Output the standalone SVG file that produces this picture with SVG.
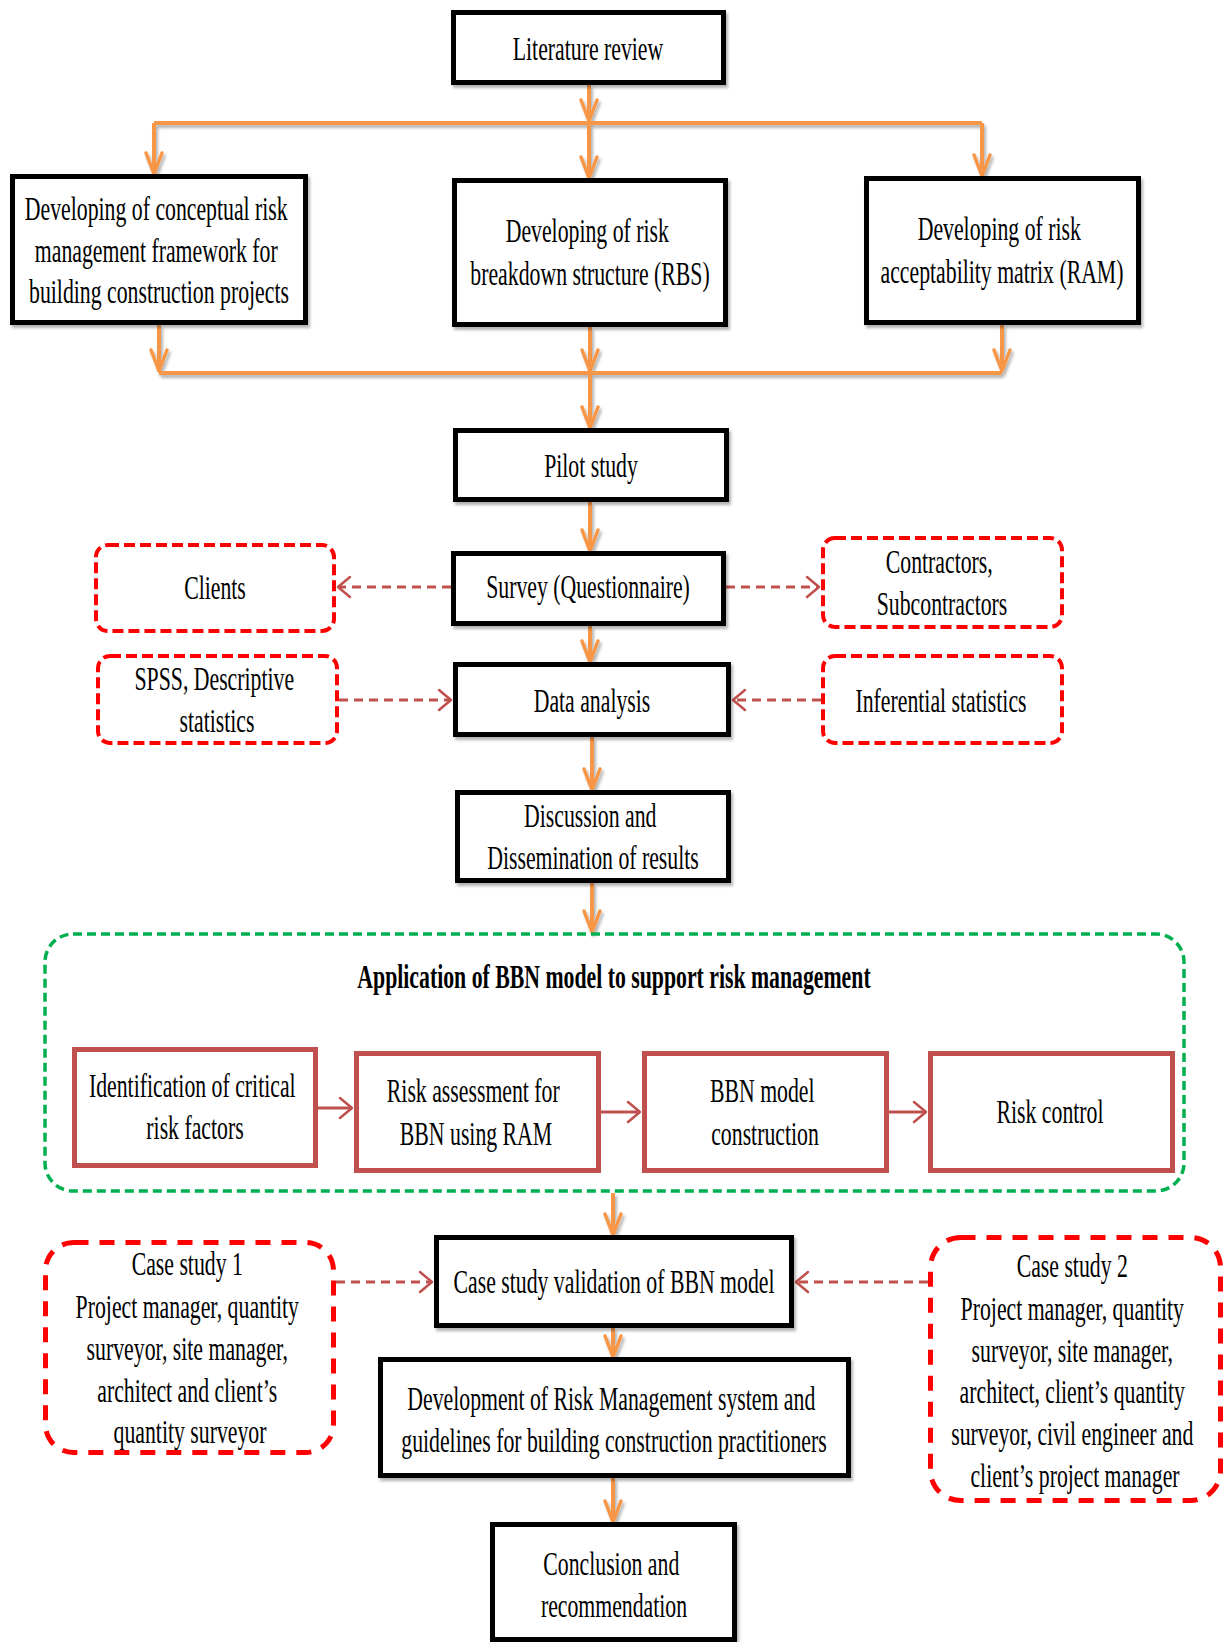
<svg xmlns="http://www.w3.org/2000/svg" width="1230" height="1642" viewBox="0 0 1230 1642">
  <style>
    .box { fill: #fff; stroke: #000; stroke-width: 5; }
    .sbox { fill: #fff; stroke: #C0504D; stroke-width: 5; }
    .dbox { fill: #fff; stroke: #FF0000; stroke-width: 4; stroke-dasharray: 11 5; }
    .cbox { fill: #fff; stroke: #FF0000; stroke-width: 5; stroke-dasharray: 15 11; }
    .grp { fill: none; stroke: #00B050; stroke-width: 3.5; stroke-dasharray: 9 5; }
    .flow { fill: none; stroke: #F79646; stroke-width: 4; }
    .flow-a { fill: none; stroke: #F79646; stroke-width: 4; marker-end: url(#arrO); }
    .link { fill: none; stroke: #C0504D; stroke-width: 3; stroke-dasharray: 9 6; marker-end: url(#arrB); }
    .step { fill: none; stroke: #C0504D; stroke-width: 3; marker-end: url(#arrB); }
    .t { font-family: "Liberation Serif", "Times New Roman", serif; font-size: 33px; fill: #000; text-anchor: middle; }
    .tb { font-weight: bold; }
  </style>
  <defs>
    <marker id="arrO" viewBox="0 0 24 18" refX="22" refY="9" markerWidth="24" markerHeight="18" markerUnits="userSpaceOnUse" orient="auto" overflow="visible">
      <path d="M1,1 L22,9 L1,17" fill="none" stroke="#F79646" stroke-width="3.5" stroke-linejoin="round" stroke-linecap="round"/>
    </marker>
    <marker id="arrB" viewBox="0 0 14 22" refX="13" refY="11" markerWidth="14" markerHeight="22" markerUnits="userSpaceOnUse" orient="auto" overflow="visible">
      <path d="M1,1 L13,11 L1,21" fill="none" stroke="#C0504D" stroke-width="2.5" stroke-linejoin="round" stroke-linecap="round"/>
    </marker>
    <filter id="shadow" x="-5%" y="-5%" width="110%" height="120%">
      <feDropShadow dx="2" dy="3" stdDeviation="1.5" flood-color="#000" flood-opacity="0.3"/>
    </filter>
  </defs>

  <!-- connectors -->
  <g id="connectors">
    <g filter="url(#shadow)">
      <path class="flow-a" d="M589,85 V121"/>
      <path class="flow" d="M154,123 H982"/>
      <path class="flow-a" d="M154,123 V174"/>
      <path class="flow-a" d="M589,123 V178"/>
      <path class="flow-a" d="M982,123 V176"/>
      <path class="flow-a" d="M159,325 V371"/>
      <path class="flow-a" d="M590,327 V371"/>
      <path class="flow-a" d="M1002,325 V371"/>
      <path class="flow" d="M159,373 H1002"/>
      <path class="flow-a" d="M590,373 V428"/>
      <path class="flow-a" d="M590,502 V551"/>
      <path class="flow-a" d="M590,626 V662"/>
      <path class="flow-a" d="M592,737 V790"/>
      <path class="flow-a" d="M592,883 V932"/>
      <path class="flow-a" d="M613,1193 V1235"/>
      <path class="flow-a" d="M613,1328 V1357"/>
      <path class="flow-a" d="M613,1478 V1522"/>
    </g>
    <path class="link" d="M451,587 H338"/>
    <path class="link" d="M726,587 H819"/>
    <path class="link" d="M339,700 H451"/>
    <path class="link" d="M821,700 H733"/>
    <path class="link" d="M336,1282 H432"/>
    <path class="link" d="M928,1282 H796"/>
    <path class="step" d="M318,1108 H352"/>
    <path class="step" d="M601,1112 H640"/>
    <path class="step" d="M889,1112 H926"/>
  </g>

  <g id="literature-review">
    <rect class="box" x="453.5" y="12.5" width="270" height="70" filter="url(#shadow)"/>
    <text class="t" transform="translate(588 0) scale(0.66 1)"><tspan x="0" y="60">Literature review</tspan></text>
  </g>

  <g id="conceptual-framework">
    <rect class="box" x="12.5" y="176.5" width="293" height="146" filter="url(#shadow)"/>
    <text class="t" transform="translate(159 0) scale(0.66 1)">
      <tspan x="0" y="220">Developing of conceptual risk</tspan>
      <tspan x="0" y="262">management framework for</tspan>
      <tspan x="0" y="303">building construction projects</tspan>
    </text>
  </g>

  <g id="rbs">
    <rect class="box" x="454.5" y="180.5" width="271" height="144" filter="url(#shadow)"/>
    <text class="t" transform="translate(590 0) scale(0.66 1)">
      <tspan x="0" y="242">Developing of risk</tspan>
      <tspan x="0" y="285">breakdown structure (RBS)</tspan>
    </text>
  </g>

  <g id="ram">
    <rect class="box" x="866.5" y="178.5" width="272" height="144" filter="url(#shadow)"/>
    <text class="t" transform="translate(1002 0) scale(0.66 1)">
      <tspan x="0" y="240">Developing of risk</tspan>
      <tspan x="0" y="283">acceptability matrix (RAM)</tspan>
    </text>
  </g>

  <g id="pilot-study">
    <rect class="box" x="455.5" y="430.5" width="271" height="69" filter="url(#shadow)"/>
    <text class="t" transform="translate(591 0) scale(0.66 1)"><tspan x="0" y="477">Pilot study</tspan></text>
  </g>

  <g id="survey">
    <rect class="box" x="453.5" y="553.5" width="270" height="70" filter="url(#shadow)"/>
    <text class="t" transform="translate(588 0) scale(0.66 1)"><tspan x="0" y="598">Survey (Questionnaire)</tspan></text>
  </g>

  <g id="clients">
    <rect class="dbox" x="96" y="545" width="238" height="86" rx="12"/>
    <text class="t" transform="translate(215 0) scale(0.66 1)"><tspan x="0" y="599">Clients</tspan></text>
  </g>

  <g id="contractors">
    <rect class="dbox" x="823" y="538" width="239" height="89" rx="12"/>
    <text class="t" transform="translate(942 0) scale(0.66 1)">
      <tspan x="0" y="573">Contractors,</tspan>
      <tspan x="0" y="615">Subcontractors</tspan>
    </text>
  </g>

  <g id="data-analysis">
    <rect class="box" x="455.5" y="664.5" width="273" height="70" filter="url(#shadow)"/>
    <text class="t" transform="translate(592 0) scale(0.66 1)"><tspan x="0" y="712">Data analysis</tspan></text>
  </g>

  <g id="spss">
    <rect class="dbox" x="98" y="656" width="239" height="87" rx="12"/>
    <text class="t" transform="translate(217 0) scale(0.66 1)">
      <tspan x="0" y="690">SPSS, Descriptive</tspan>
      <tspan x="0" y="732">statistics</tspan>
    </text>
  </g>

  <g id="inferential">
    <rect class="dbox" x="823" y="656" width="239" height="87" rx="12"/>
    <text class="t" transform="translate(941 0) scale(0.66 1)"><tspan x="0" y="712">Inferential statistics</tspan></text>
  </g>

  <g id="discussion">
    <rect class="box" x="457.5" y="792.5" width="271" height="88" filter="url(#shadow)"/>
    <text class="t" transform="translate(593 0) scale(0.66 1)">
      <tspan x="0" y="827">Discussion and</tspan>
      <tspan x="0" y="869">Dissemination of results</tspan>
    </text>
  </g>

  <g id="bbn-application">
    <rect class="grp" x="45" y="934" width="1139" height="257" rx="28"/>
    <text class="t tb" transform="translate(614 0) scale(0.66 1)"><tspan x="0" y="988">Application of BBN model to support risk management</tspan></text>
  </g>

  <g id="critical-risk-factors">
    <rect class="sbox" x="74.5" y="1049.5" width="241" height="116"/>
    <text class="t" transform="translate(195 0) scale(0.66 1)">
      <tspan x="0" y="1097">Identification of critical</tspan>
      <tspan x="0" y="1139">risk factors</tspan>
    </text>
  </g>

  <g id="risk-assessment">
    <rect class="sbox" x="356.5" y="1053.5" width="242" height="117"/>
    <text class="t" transform="translate(476 0) scale(0.66 1)">
      <tspan x="0" y="1102">Risk assessment for</tspan>
      <tspan x="0" y="1145">BBN using RAM</tspan>
    </text>
  </g>

  <g id="bbn-construction">
    <rect class="sbox" x="644.5" y="1053.5" width="242" height="117"/>
    <text class="t" transform="translate(765 0) scale(0.66 1)">
      <tspan x="0" y="1102">BBN model</tspan>
      <tspan x="0" y="1145">construction</tspan>
    </text>
  </g>

  <g id="risk-control">
    <rect class="sbox" x="930.5" y="1053.5" width="242" height="117"/>
    <text class="t" transform="translate(1050 0) scale(0.66 1)"><tspan x="0" y="1123">Risk control</tspan></text>
  </g>

  <g id="case-study-1">
    <rect class="cbox" x="45.5" y="1242.5" width="288" height="210" rx="28"/>
    <text class="t" transform="translate(190 0) scale(0.66 1)">
      <tspan x="0" y="1275">Case study 1</tspan>
      <tspan x="0" y="1318">Project manager, quantity</tspan>
      <tspan x="0" y="1360">surveyor, site manager,</tspan>
      <tspan x="0" y="1402">architect and client’s</tspan>
      <tspan x="0" y="1443">quantity surveyor</tspan>
    </text>
  </g>

  <g id="case-study-validation">
    <rect class="box" x="436.5" y="1237.5" width="355" height="88" filter="url(#shadow)"/>
    <text class="t" transform="translate(614 0) scale(0.66 1)"><tspan x="0" y="1293">Case study validation of BBN model</tspan></text>
  </g>

  <g id="case-study-2">
    <rect class="cbox" x="930.5" y="1237.5" width="290" height="263" rx="30"/>
    <text class="t" transform="translate(1075 0) scale(0.66 1)">
      <tspan x="0" y="1277">Case study 2</tspan>
      <tspan x="0" y="1320">Project manager, quantity</tspan>
      <tspan x="0" y="1362">surveyor, site manager,</tspan>
      <tspan x="0" y="1403">architect, client’s quantity</tspan>
      <tspan x="0" y="1445">surveyor, civil engineer and</tspan>
      <tspan x="0" y="1487">client’s project manager</tspan>
    </text>
  </g>

  <g id="rm-system">
    <rect class="box" x="380.5" y="1359.5" width="468" height="116" filter="url(#shadow)"/>
    <text class="t" transform="translate(614 0) scale(0.66 1)">
      <tspan x="0" y="1410">Development of Risk Management system and</tspan>
      <tspan x="0" y="1452">guidelines for building construction practitioners</tspan>
    </text>
  </g>

  <g id="conclusion">
    <rect class="box" x="492.5" y="1524.5" width="242" height="115" filter="url(#shadow)"/>
    <text class="t" transform="translate(614 0) scale(0.66 1)">
      <tspan x="0" y="1575">Conclusion and</tspan>
      <tspan x="0" y="1617">recommendation</tspan>
    </text>
  </g>
</svg>
